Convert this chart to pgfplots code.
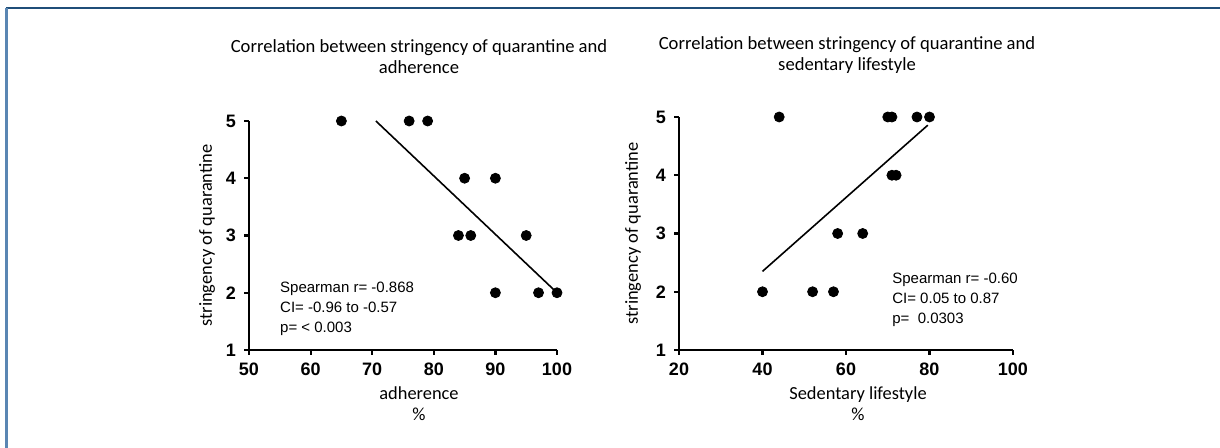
\documentclass[border=0pt]{standalone}
\usepackage{fontspec}
\setmainfont{Carlito}
\newfontfamily\arialfont{Liberation Sans}
\usepackage{pgfplots}
\pgfplotsset{compat=1.18}
\definecolor{frametop}{HTML}{1F4E79}
\definecolor{frameleft}{HTML}{5A86B3}
\pgfplotsset{
  prism/.style={
    scale only axis,
    axis x line*=bottom, axis y line*=left,
    axis line style={line width=1.1pt,-},
    tick align=outside,
    major tick length=2.5pt,
    tick style={line width=1.1pt,black},
    ymin=1, ymax=5, ytick={1,2,3,4,5},
    clip=false,
    /pgf/number format/assume math mode=true,
    tick label style={font=\arialfont\bfseries\fontsize{9}{10}\selectfont},
    xticklabel style={yshift=-0.5pt},
    yticklabel style={xshift=-0.5pt},
    label style={font=\fontsize{9.2}{10.5}\selectfont},
    title style={font=\fontsize{9.3}{10.5}\selectfont, align=center, anchor=south},
    xlabel style={align=center, anchor=center},
    ylabel style={anchor=center},
  }
}
\begin{document}
\begin{tikzpicture}
\useasboundingbox (0,0) rectangle (610pt,224pt);
\fill[white] (0,0) rectangle (610pt,224pt);
\draw[frametop, line width=1.2pt] (3pt,220pt) -- (610pt,220pt);
\draw[frameleft, line width=1.2pt] (3.2pt,220pt) -- (3.2pt,0pt);

\begin{axis}[prism,
  at={(124.5pt,49pt)}, anchor=south west,
  width=154pt, height=114.5pt,
  xmin=50, xmax=100, xtick={50,60,70,80,90,100},
  title={Correlation between stringency of quarantine and\\adherence},
  title style={at={(axis description cs:0.552,1)}, yshift=14pt},
  xlabel={adherence\\\%},
  xlabel style={at={(axis description cs:0.552,0)}, yshift=-27pt},
  ylabel={stringency of quarantine},
  ylabel style={at={(axis description cs:0,0.5)}, yshift=21pt},
]
\addplot[only marks, mark=*, mark size=2.5pt, black] coordinates {
 (65,5) (76,5) (79,5) (85,4) (90,4) (84,3) (86,3) (95,3) (90,2) (97,2) (100,2)};
\addplot[black, line width=0.8pt] coordinates {(70.6,5) (100,2)};
\node[anchor=north west, align=left, inner sep=0pt, font=\arialfont\fontsize{7.5}{10}\selectfont]
  at (axis cs:55,2.2) {Spearman r= -0.868\\CI= -0.96 to -0.57\\p= {\textless} 0.003};
\end{axis}

\begin{axis}[prism,
  at={(339.5pt,49pt)}, anchor=south west,
  width=167pt, height=116.5pt,
  xmin=20, xmax=100, xtick={20,40,60,80,100},
  title={Correlation between stringency of quarantine and\\sedentary lifestyle},
  title style={at={(axis description cs:0.503,1)}, yshift=12pt},
  xlabel={Sedentary lifestyle\\\%},
  xlabel style={at={(axis description cs:0.536,0)}, yshift=-27pt},
  ylabel={stringency of quarantine},
  ylabel style={at={(axis description cs:0,0.5)}, yshift=23pt},
]
\addplot[only marks, mark=*, mark size=2.5pt, black] coordinates {
 (40,2) (44,5) (52,2) (57,2) (58,3) (64,3) (70,5) (71,5) (77,5) (80,5) (71,4) (72,4)};
\addplot[black, line width=0.8pt] coordinates {(40,2.35) (79.6,4.86)};
\node[anchor=north west, align=left, inner sep=0pt, font=\arialfont\fontsize{7.5}{10}\selectfont]
  at (axis cs:71,2.32) {Spearman r= -0.60\\CI= 0.05 to 0.87\\p=\ \ 0.0303};
\end{axis}
\end{tikzpicture}
\end{document}
